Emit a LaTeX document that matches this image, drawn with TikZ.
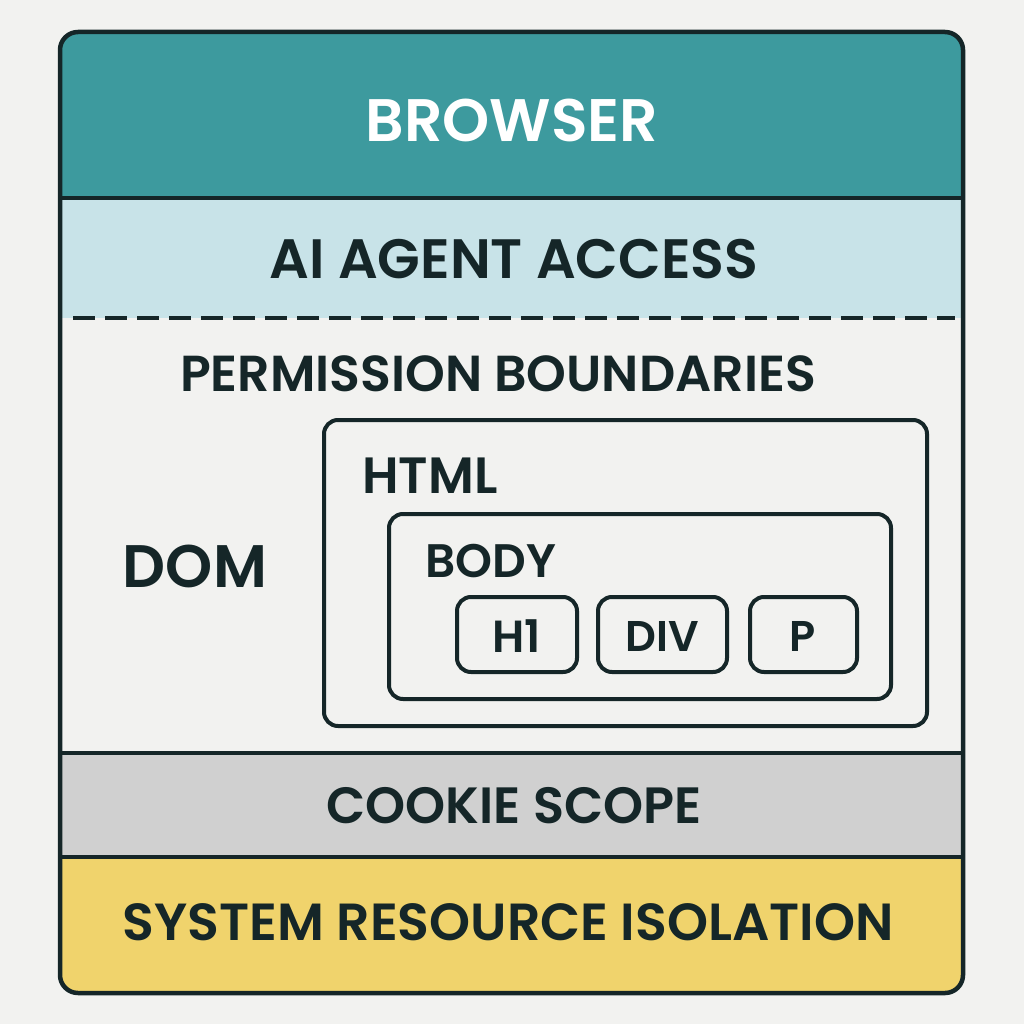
\documentclass[tikz,border=0pt]{standalone}
\usepackage{fontspec}
\setmainfont{Poppins}[BoldFont={Poppins SemiBold}]
\definecolor{bg}{HTML}{F2F2F0}
\definecolor{ink}{HTML}{152628}
\definecolor{teal}{HTML}{3D9A9E}
\definecolor{lblue}{HTML}{C8E3E8}
\definecolor{lgray}{HTML}{D0D0D0}
\definecolor{yel}{HTML}{F0D36C}
\begin{document}
\begin{tikzpicture}[x=1pt,y=-1pt,
  lbl/.style={text=ink,font=\fontsize{#1}{#1}\selectfont\bfseries,inner sep=0pt,anchor=center},
  tagbox/.style={draw=ink,line width=4pt,rounded corners=14pt,fill=bg},
  divider/.style={draw=ink,line width=4.5pt}]
\useasboundingbox (0,0) rectangle (1024,1024);
\fill[bg] (0,0) rectangle (1024,1024);
\begin{scope}
\clip[rounded corners=18pt] (60,32) rectangle (963,993);
\fill[teal] (60,32) rectangle (963,198);
\fill[lblue] (60,198) rectangle (963,318);
\fill[bg] (60,318) rectangle (963,753);
\fill[lgray] (60,753) rectangle (963,857);
\fill[yel] (60,857) rectangle (963,993);
\end{scope}
\coordinate (d1l) at (60,198); \coordinate (d1r) at (963,198);
\coordinate (d2l) at (73,318); \coordinate (d2r) at (955,318);
\coordinate (d3l) at (60,753); \coordinate (d3r) at (963,753);
\coordinate (d4l) at (60,857); \coordinate (d4r) at (963,857);
\draw[divider] (d1l) -- (d1r);
\draw[divider] (d3l) -- (d3r);
\draw[divider] (d4l) -- (d4r);
\draw[ink,line width=4pt,dash pattern=on 22pt off 10pt] (d2l) -- (d2r);
\draw[ink,line width=4.5pt,rounded corners=18pt] (60,32) rectangle (963,993);
% inner boxes
\draw[tagbox] (324,420) rectangle (927,726);
\draw[tagbox] (389,514) rectangle (891,699);
\draw[tagbox] (457,597) rectangle (577,672);
\draw[tagbox] (598,597) rectangle (727,672);
\draw[tagbox] (750,597) rectangle (857,672);
% labels
\node[lbl=60,text=white] (browser) at (512,120) {BROWSER};
\node[lbl=55.5] (agent) at (514,259) {AI AGENT ACCESS};
\node[lbl=50.6] (perm) at (498,374) {PERMISSION BOUNDARIES};
\node[lbl=60] (dom) at (195,566) {DOM};
\node[lbl=51] (html) at (430,476) {HTML};
\node[lbl=47] (body) at (491,561) {BODY};
\node[lbl=45] (h1) at (517,636) {H1};
\node[lbl=43] (div) at (662,636) {DIV};
\node[lbl=43] (p) at (803,636) {P};
\node[lbl=51] (cookie) at (514,806) {COOKIE SCOPE};
\node[lbl=52.2] (sys) at (508,922) {SYSTEM RESOURCE ISOLATION};
\end{tikzpicture}
\end{document}
